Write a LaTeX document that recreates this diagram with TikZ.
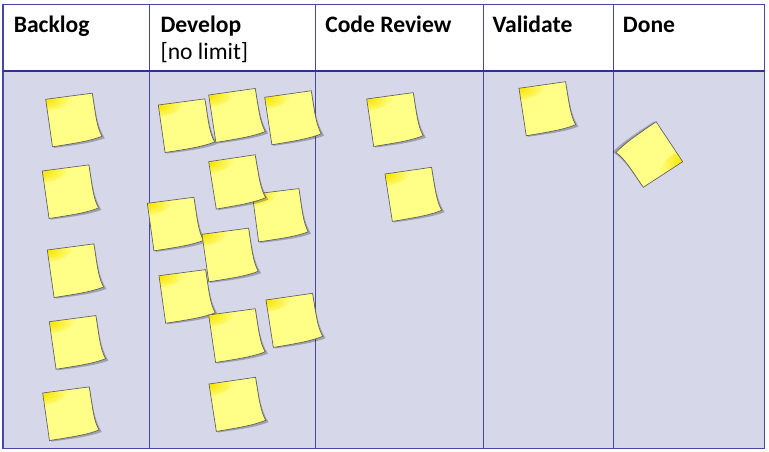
\documentclass[tikz,border=0pt]{standalone}
\usepackage{fontspec}
\setmainfont{Carlito}
\definecolor{bg}{RGB}{214,216,234}
\definecolor{gridc}{RGB}{70,70,165}
\definecolor{gridd}{RGB}{50,50,140}
\definecolor{notey}{RGB}{255,255,136}
\definecolor{noteedge}{RGB}{95,95,95}
\definecolor{curl}{RGB}{248,228,0}
\tikzset{
  notepath/.style={insert path={(0,0) -- (47,0) .. controls (47.5,22) and (47,34) .. (51,44) .. controls (40,47) and (24,47.5) .. (0.5,48) -- cycle}},
  shadowpath/.style={insert path={(2,2) -- (47.5,2) .. controls (48,22) and (48,34) .. (53.5,46.3) .. controls (41,49.3) and (24,49.3) .. (2,49.3) -- cycle}},
  note/.pic={
    \fill[black,opacity=.25,shadowpath];
    \fill[notey,notepath];
    \begin{scope}
      \clip[notepath];
      \shade[inner color=curl,outer color=notey] (0,0) ellipse [x radius=26, y radius=12];
    \end{scope}
    \draw[noteedge,line width=.5,notepath];
  },
  hdr/.style={anchor=base west,inner sep=0,font=\bfseries\fontsize{17.7}{20.25}\selectfont,text=black},
  hdrsub/.style={anchor=base west,inner sep=0,font=\fontsize{17.7}{20.25}\selectfont,text=black},
  gridline/.style={draw=gridc,line width=.9},
}
\begin{document}
\begin{tikzpicture}[x=0.75pt,y=-0.75pt]
\useasboundingbox (0,0) rectangle (769,452);
\fill[white] (0,0) rectangle (769,452);
% table
\fill[white] (3,4.5) rectangle (764.5,71);
\fill[bg] (3,71) rectangle (764.5,448.5);
\coordinate (tl) at (3,4.5);
\coordinate (br) at (764.5,448.5);
\draw[gridline] (tl) rectangle (br);
\foreach \xx in {149.7,315.3,483.3,613.3}{
  \draw[gridline] (\xx,4.5) -- (\xx,448.5);
}
\draw[draw=gridd,line width=1.6] (3,71) -- (764.5,71);
% headers
\node[hdr] (hbacklog) at (13.5,32.3) {Backlog};
\node[hdr] (hdevelop) at (160.3,32.3) {Develop};
\node[hdrsub] (hnolimit) at (160.3,59.3) {[no limit]};
\node[hdr] (hreview) at (325,32.3) {Code Review};
\node[hdr] (hvalidate) at (492.3,32.3) {Validate};
\node[hdr] (hdone) at (622.7,32.3) {Done};
% backlog notes
\pic[rotate=7.5] (b1) at (45.7,99.3) {note};
\pic[rotate=7.5] (b2) at (42.3,171) {note};
\pic[rotate=7.5] (b3) at (47.3,250) {note};
\pic[rotate=7.5] (b4) at (49.3,321.7) {note};
\pic[rotate=7.5] (b5) at (42.7,393) {note};
% develop notes
\pic[rotate=7.5] (d1) at (158.3,105) {note};
\pic[rotate=8] (d2) at (208.7,95) {note};
\pic[rotate=8] (d3) at (264.7,97.3) {note};
\pic[rotate=7] (d6) at (252.3,194.3) {note};
\pic[rotate=8.5] (d4) at (208.7,161.7) {note};
\pic[rotate=7.4] (d5) at (147.3,203.3) {note};
\pic[rotate=7.5] (d7) at (202,234.3) {note};
\pic[rotate=7.4] (d8) at (159,275.7) {note};
\pic[rotate=8.2] (d10) at (266,300) {note};
\pic[rotate=7.7] (d9) at (208.7,315) {note};
\pic[rotate=8.2] (d11) at (209,384) {note};
% code review notes
\pic[rotate=7.8] (c1) at (366.7,99) {note};
\pic[rotate=8.2] (c2) at (385,174) {note};
% validate
\pic[rotate=8.1] (v1) at (519,88.3) {note};
% done
\pic[rotate=-147] (n1) at (682.7,161.7) {note};
\end{tikzpicture}
\end{document}
